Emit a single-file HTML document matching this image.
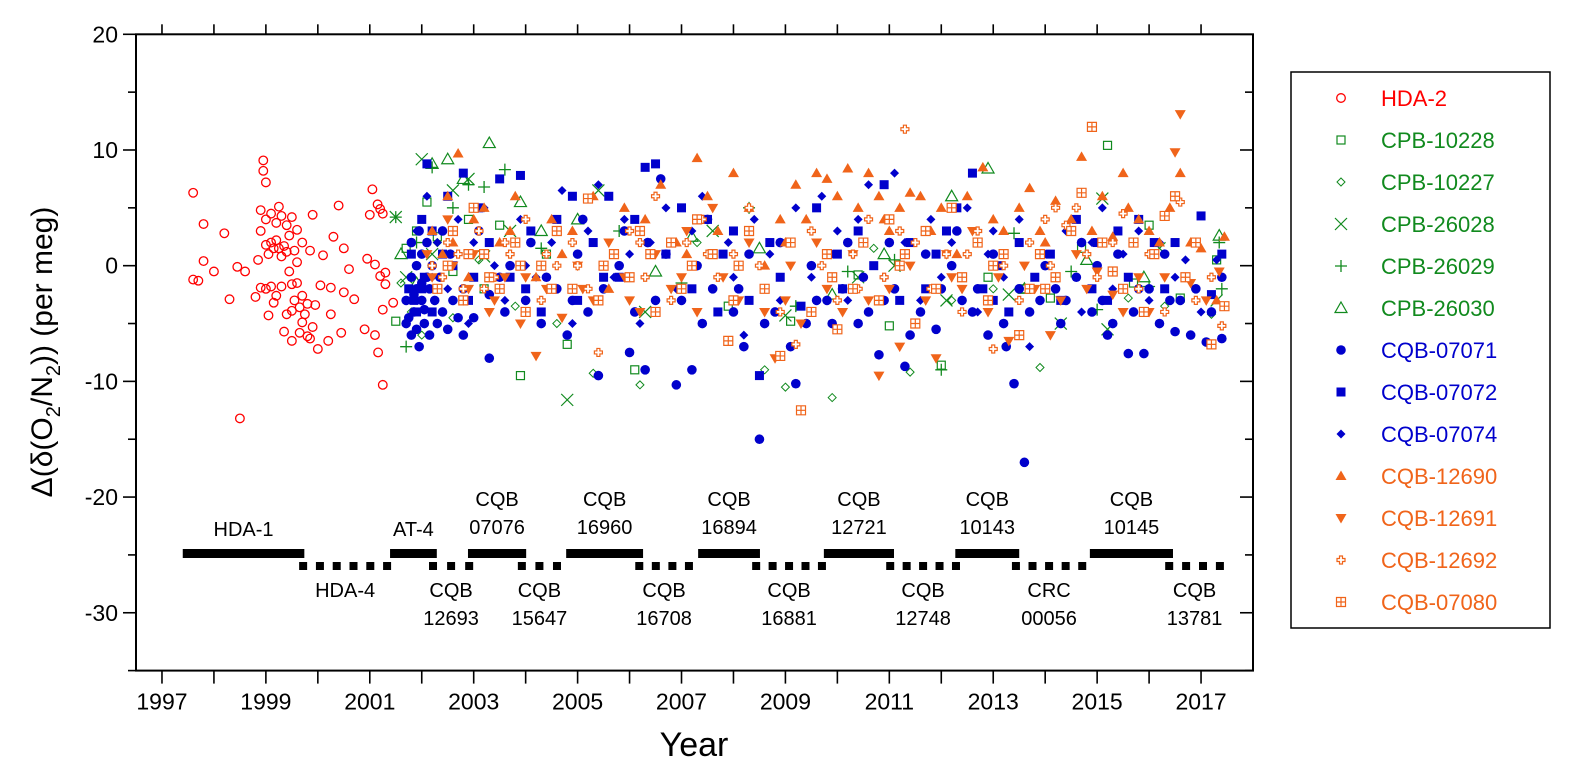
<!DOCTYPE html>
<html><head><meta charset="utf-8"><style>
body{margin:0;background:#fff;}
svg{display:block;font-family:"Liberation Sans",Arial,sans-serif;}
</style></head><body>
<svg id="chart" width="1571" height="779" viewBox="0 0 1571 779" xmlns="http://www.w3.org/2000/svg"></svg>
<script>
const yearTicks=[1997,1999,2001,2003,2005,2007,2009,2011,2013,2015,2017];
const yTicks=[20,10,0,-10,-20,-30];
const hda2=[[1997.6,-1.2],[1997.6,6.3],[1997.7,-1.3],[1997.8,0.4],[1997.8,3.6],[1998.0,-0.5],[1998.2,2.8],[1998.3,-2.9],[1998.45,-0.1],[1998.5,-13.2],[1998.6,-0.5],[1998.8,-2.7],[1998.85,0.5],[1998.9,3.0],[1998.9,4.8],[1998.95,8.2],[1998.95,9.1],[1999.0,7.2],[1999.0,4.0],[1999.0,-2.0],[1999.05,1.0],[1999.05,-4.3],[1999.1,4.5],[1999.1,2.0],[1999.1,-1.8],[1999.15,1.5],[1999.2,3.7],[1999.2,-2.6],[1999.25,5.1],[1999.25,1.5],[1999.3,4.3],[1999.3,-1.8],[1999.35,1.7],[1999.35,-5.7],[1999.4,3.5],[1999.4,1.2],[1999.4,-4.2],[1999.45,2.6],[1999.5,-1.6],[1999.5,4.2],[1999.5,-6.5],[1999.55,1.3],[1999.55,-3.0],[1999.6,3.1],[1999.6,-1.5],[1999.65,-3.6],[1999.65,-5.8],[1999.7,2.0],[1999.7,-2.6],[1999.75,-4.2],[1999.8,-3.3],[1999.8,-6.1],[1999.85,1.3],[1999.85,-6.3],[1999.9,4.4],[1999.9,-5.3],[1999.95,-3.4],[2000.0,-7.2],[2000.05,-1.7],[2000.1,0.9],[2000.2,-6.5],[2000.25,-1.9],[2000.25,-4.2],[2000.3,2.5],[2000.4,5.2],[2000.45,-5.8],[2000.5,-2.3],[2000.5,1.5],[2000.6,-0.3],[2000.7,-2.9],[2000.9,-5.5],[2000.95,0.6],[2001.0,4.4],[2001.05,6.6],[2001.1,-6.0],[2001.1,0.1],[2001.15,5.3],[2001.2,4.9],[2001.2,-0.9],[2001.25,4.5],[2001.25,-3.8],[2001.3,-1.6],[2001.3,-0.6],[2001.16,-7.5],[2001.25,-10.3],[2001.45,-3.2],[1999.2,2.2],[1999.3,0.8],[1999.45,-0.5],[1999.6,0.3],[1999.0,1.8],[1999.15,-3.2],[1999.5,-3.9],[1999.7,-4.9],[1998.9,-1.9]];
const cpb10228=[[2001.5,-4.8],[2001.7,1.5],[2001.9,3.0],[2002.1,5.5],[2002.3,2.5],[2002.6,-0.5],[2002.9,4.0],[2003.2,-2.0],[2003.5,3.5],[2003.9,-9.5],[2004.4,1.0],[2004.8,-6.8],[2006.1,-9.0],[2007.9,-3.5],[2009.1,-4.8],[2010.4,-0.8],[2011.0,-5.2],[2012.0,-8.6],[2012.9,-1.0],[2013.6,-2.0],[2014.1,-2.8],[2014.7,1.5],[2015.2,10.4],[2015.7,-1.5],[2016.0,3.5],[2016.6,-2.8],[2017.3,0.5]];
const cpb10227=[[2001.6,-1.5],[2001.8,-4.0],[2002.0,-6.0],[2002.3,2.0],[2002.6,-4.5],[2003.1,0.5],[2003.8,-3.5],[2004.6,-5.0],[2005.3,-9.3],[2006.2,-10.3],[2007.3,2.0],[2008.6,-9.0],[2009.0,-10.5],[2009.9,-11.4],[2010.7,1.5],[2011.4,-9.2],[2012.2,-3.0],[2013.0,-2.0],[2013.9,-8.8],[2014.7,2.0],[2015.6,-2.8],[2016.3,-3.5],[2017.2,-4.2]];
const cpb26028=[[2001.5,4.2],[2001.7,-1.0],[2002.0,9.2],[2002.2,1.0],[2002.6,6.5],[2002.9,7.5],[2003.2,0.8],[2003.7,3.0],[2004.8,-11.6],[2005.4,6.5],[2006.3,-4.0],[2007.6,3.0],[2009.0,-4.3],[2010.4,-1.0],[2011.1,0.0],[2012.1,-3.0],[2013.3,-2.5],[2014.3,-5.0],[2015.1,5.8],[2015.2,-5.5],[2016.2,1.5],[2017.3,-3.0]];
const cpb26029=[[2001.5,4.2],[2001.7,-7.0],[2001.9,2.0],[2002.2,8.5],[2002.6,5.0],[2002.9,7.0],[2003.2,6.8],[2003.6,8.3],[2004.3,1.5],[2005.8,3.0],[2007.0,-1.5],[2008.3,5.0],[2009.2,-3.5],[2010.2,-0.5],[2011.1,0.5],[2012.0,-9.0],[2013.4,2.8],[2014.5,-0.5],[2015.0,-3.8],[2016.0,-1.8],[2017.35,2.0],[2017.4,-2.0]];
const cpb26030=[[2001.6,1.0],[2001.9,-1.5],[2002.2,8.8],[2002.5,9.2],[2002.8,7.5],[2003.3,10.6],[2003.9,5.5],[2004.3,3.0],[2005.0,4.0],[2006.5,-0.5],[2007.2,2.5],[2008.5,1.5],[2009.9,-2.5],[2010.9,1.0],[2012.2,6.0],[2012.9,8.4],[2013.6,-2.0],[2014.8,0.5],[2015.9,-1.0],[2017.35,2.6]];
const cqb07071=[[2001.7,-3],[2001.7,-5],[2001.8,-1],[2001.8,-6],[2001.8,2],[2001.85,-4],[2001.9,0],[2001.9,-2],[2001.95,-7],[2001.95,3],[2002.0,-3],[2002.0,1],[2002.05,-5],[2002.1,-1],[2002.1,2],[2002.15,-6],[2002.2,0],[2002.25,-3],[2002.4,-4],[2002.4,3],[2002.5,-5.5],[2002.55,1],[2002.8,-6],[2002.8,-2],[2003.0,-4.5],[2003.1,3],[2003.3,-8],[2003.3,-2.5],[2003.6,-4],[2003.7,0],[2004.0,-3],[2004.1,2],[2004.3,-5],[2004.4,-1],[2004.8,-6],[2004.9,-3],[2005.0,1],[2005.1,4],[2005.4,-9.5],[2005.5,-2],[2005.8,0],[2005.9,3],[2006.0,-7.5],[2006.1,-4],[2006.3,-9],[2006.35,2],[2006.6,7.5],[2006.7,1],[2006.9,-10.3],[2007.0,-3],[2007.2,-9],[2007.3,0],[2007.5,4],[2007.6,-2],[2007.9,-6.5],[2008.0,-4],[2008.2,-7],[2008.3,1],[2008.5,-15],[2008.6,-5],[2008.8,-4],[2008.9,2],[2009.1,-7],[2009.2,-10.2],[2009.4,-5],[2009.5,0],[2009.8,-3],[2009.9,-5],[2010.1,-2],[2010.2,2],[2010.4,-5],[2010.5,-1],[2010.8,-7.7],[2010.9,-3],[2011.0,2],[2011.1,-2],[2011.3,-8.7],[2011.4,-6],[2011.6,-4],[2011.7,1],[2011.9,-5.5],[2012.0,-2],[2012.2,0],[2012.3,3],[2012.6,-4],[2012.7,-2],[2012.9,-6],[2013.0,1],[2013.2,-5],[2013.25,-7],[2013.4,-10.2],[2013.5,-2],[2013.6,-17],[2013.7,-4],[2013.9,-3],[2014.0,0],[2014.2,-2],[2014.3,-5],[2014.6,-1],[2014.7,2],[2014.9,-4],[2015.0,0],[2015.1,-3],[2015.2,-6],[2015.3,-5],[2015.4,1],[2015.6,-7.6],[2015.7,-4],[2015.9,-7.6],[2016.0,-2],[2016.2,-5],[2016.3,1],[2016.5,-5.7],[2016.6,-3],[2016.8,-6],[2016.9,-2],[2017.1,-6.6],[2017.2,-4],[2017.4,-6.3],[2017.4,-1],[2001.75,-4.5],[2001.85,-2.5],[2001.9,-5.5],[2002.0,-1.5],[2002.05,-3.8],[2002.15,-2],[2002.3,-5],[2002.35,-1],[2002.6,-3],[2002.7,-4.5],[2003.5,-1],[2004.6,-2],[2005.2,-4],[2006.5,-3],[2007.4,-5],[2008.1,-2],[2009.6,-3],[2010.6,-4],[2012.4,-3],[2014.4,-3],[2015.8,-2],[2016.4,-3]];
const cqb07072=[[2001.75,-2],[2001.8,1],[2001.9,-4],[2002.0,4],[2002.05,-1],[2002.1,8.8],[2002.2,3],[2002.3,-2],[2002.5,6],[2002.6,0],[2002.8,8],[2002.9,-3],[2003.1,5],[2003.3,2],[2003.5,7.5],[2003.7,-1],[2003.9,7.8],[2004.1,3],[2004.3,-4],[2004.6,4],[2004.9,6],[2005.0,-3],[2005.3,2],[2005.6,6],[2005.8,-1],[2006.1,4],[2006.3,8.5],[2006.5,8.8],[2006.7,1],[2007.0,5],[2007.2,-2],[2007.5,4],[2007.7,-4],[2008.0,3],[2008.3,-3],[2008.5,-9.5],[2008.7,2],[2008.9,-1],[2009.3,-3.5],[2009.6,5],[2009.8,1],[2010.1,-2],[2010.4,3],[2010.7,0],[2010.9,7],[2011.2,-3],[2011.4,2],[2011.7,-2],[2011.9,1],[2012.1,3],[2012.3,5],[2012.6,8],[2012.8,-2],[2013.1,0],[2013.3,-4],[2013.5,2],[2013.8,-1],[2014.1,1],[2014.3,-3],[2014.6,4],[2014.9,-2],[2015.0,2],[2015.2,-3],[2015.4,3],[2015.6,-1],[2015.8,4],[2016.1,2],[2016.3,-2],[2016.5,2],[2016.7,-1],[2017.0,4.3],[2017.2,-2.5],[2017.4,1],[2001.85,-3],[2002.0,-2],[2002.2,-4],[2002.4,1],[2003.0,-1],[2004.0,-2],[2005.5,-1],[2007.8,1],[2010.0,1],[2013.0,-3]];
const cqb07074=[[2001.8,-1],[2001.9,3],[2002.0,-3],[2002.1,6],[2002.3,2],[2002.5,-2],[2002.7,4],[2002.9,-5],[2003.2,5],[2003.4,0],[2003.6,-3],[2003.9,4],[2004.2,-1],[2004.5,2],[2004.7,6.5],[2004.9,-5],[2005.2,3],[2005.4,7],[2005.7,-1],[2005.9,4],[2006.2,-5],[2006.4,2],[2006.7,5],[2006.9,-2],[2007.2,3],[2007.4,6],[2007.7,-4],[2007.9,2],[2008.2,-6],[2008.4,4],[2008.7,1],[2008.9,-3],[2009.2,5],[2009.5,-1],[2009.7,6],[2009.9,1],[2010.2,-3],[2010.4,4],[2010.6,7],[2010.9,-1],[2011.1,8],[2011.3,2],[2011.6,-3],[2011.8,4],[2012.0,-1],[2012.2,2],[2012.5,5],[2012.7,-4],[2013.0,3],[2013.2,-1],[2013.5,4],[2013.7,-7],[2014.0,1],[2014.2,-2],[2014.4,3],[2014.7,-4],[2014.9,2],[2015.1,5],[2015.3,-2],[2015.5,1],[2015.8,3],[2016.0,-3],[2016.2,2],[2016.5,-1],[2016.7,0.5],[2017.0,-4],[2017.3,0.5],[2002.0,1],[2002.2,-1],[2003.0,2],[2004.0,0],[2006.0,1],[2008.0,-1],[2010.0,3],[2012.9,1]];
const cqb12690=[[2002.2,3],[2002.5,6],[2002.7,9.7],[2002.9,-1],[2003.2,5],[2003.5,2],[2003.8,6],[2004.2,-1],[2004.5,4],[2004.9,3],[2005.3,6],[2005.6,-2],[2005.9,5],[2006.3,4],[2006.6,7],[2006.9,2],[2007.3,9.3],[2007.5,6],[2007.7,3],[2008.0,8],[2008.3,5],[2008.6,0],[2008.9,4],[2009.2,7],[2009.4,4],[2009.6,8],[2009.8,7.5],[2010.0,6],[2010.2,8.4],[2010.4,5],[2010.6,8],[2010.8,6],[2011.0,3],[2011.2,5],[2011.4,6.3],[2011.6,6],[2011.8,3],[2012.0,5],[2012.3,1],[2012.5,6],[2012.8,8.5],[2013.0,4],[2013.2,3],[2013.5,5],[2013.7,6.7],[2014.0,2],[2014.2,5.6],[2014.5,4],[2014.7,9.4],[2014.9,3],[2015.1,6],[2015.3,2.5],[2015.5,8],[2015.8,4],[2016.0,3],[2016.2,2],[2016.4,5],[2016.6,8],[2016.8,2],[2017.0,1.5],[2017.3,-3],[2017.45,2.5],[2002.4,1],[2002.6,2],[2003.0,4],[2003.7,3],[2004.7,1],[2007.1,1],[2009.0,2],[2010.9,4],[2013.9,3],[2015.6,5]];
const cqb12691=[[2002.1,1],[2002.3,-2],[2002.5,4],[2002.8,-3],[2003.0,1],[2003.3,-4],[2003.6,-1],[2003.9,-5],[2004.2,-7.8],[2004.4,-2],[2004.7,-4.5],[2005.0,0],[2005.3,-3],[2005.6,2],[2005.9,-1],[2006.2,-4],[2006.5,1],[2006.8,-2],[2007.1,3],[2007.3,-4],[2007.6,5],[2007.8,-1],[2008.1,-3],[2008.3,2],[2008.6,-4],[2008.8,-8],[2009.1,0],[2009.3,-5],[2009.6,2],[2009.8,-2],[2010.1,-4],[2010.3,1],[2010.6,-3],[2010.8,-9.5],[2011.0,-2],[2011.2,-7],[2011.4,0],[2011.7,-3],[2011.9,-8],[2012.1,1],[2012.4,-2],[2012.6,3],[2012.9,-4],[2013.1,-1],[2013.3,-6.5],[2013.6,0],[2013.8,-2],[2014.1,-6],[2014.3,-3],[2014.6,1],[2014.8,-2],[2015.0,-0.5],[2015.3,-2.5],[2015.5,-4],[2015.8,-1],[2016.0,-4],[2016.3,-1],[2016.5,9.8],[2016.6,13.1],[2016.8,-1.5],[2017.1,-3],[2017.35,-0.5],[2002.2,-1],[2002.6,0],[2002.9,-2],[2003.4,-3],[2004.0,-1],[2005.1,-2],[2006.0,-3],[2007.0,-1],[2009.0,-3],[2012.2,-1]];
const cqb12692=[[2002.2,0],[2002.5,2],[2002.8,-2],[2003.1,3],[2003.4,-1],[2003.7,1],[2004.0,4],[2004.3,-3],[2004.6,0],[2004.9,2],[2005.2,-2],[2005.4,-7.5],[2005.7,1],[2006.0,3],[2006.3,-1],[2006.5,6],[2006.8,-3],[2007.1,2],[2007.4,4],[2007.7,-1],[2008.0,1],[2008.3,5],[2008.6,-2],[2008.9,-4],[2009.2,-6.8],[2009.5,3],[2009.7,0],[2010.0,-3],[2010.3,1],[2010.6,4],[2010.9,-1],[2011.2,3],[2011.3,11.8],[2011.5,2],[2011.8,-2],[2012.1,1],[2012.4,-4],[2012.7,3],[2013.0,-7.2],[2013.2,0],[2013.5,-3],[2013.7,2],[2014.0,4],[2014.2,5],[2014.4,3.5],[2014.6,5],[2014.8,1],[2015.0,-1],[2015.3,2],[2015.5,4.5],[2015.8,-2],[2016.0,1],[2016.3,-4],[2016.6,5.5],[2016.9,-3],[2017.2,-1],[2017.4,-5.2],[2002.4,-1],[2002.7,1],[2003.2,-2],[2003.6,2],[2004.4,1],[2005.0,0],[2006.2,2],[2007.5,1],[2008.5,0],[2010.4,-2],[2012.5,1],[2014.1,0]];
const cqb07080=[[2002.3,-2],[2002.6,3],[2002.8,-3],[2003.0,5],[2003.2,1],[2003.5,-2],[2003.8,2],[2004.0,-4],[2004.3,0],[2004.6,3],[2004.9,-2],[2005.2,5.8],[2005.4,-3],[2005.7,1],[2006.0,-1],[2006.2,3],[2006.5,-4],[2006.8,2],[2007.0,-2],[2007.3,4],[2007.6,1],[2007.9,-6.5],[2008.1,0],[2008.3,3],[2008.6,-2],[2008.9,-7.8],[2009.1,2],[2009.3,-12.5],[2009.5,-4],[2009.8,1],[2010.0,-5.5],[2010.3,-2],[2010.5,2],[2010.8,-3],[2011.0,4],[2011.2,0],[2011.5,-5],[2011.7,3],[2011.9,-2],[2012.2,5],[2012.4,-1],[2012.7,2],[2012.9,-3],[2013.2,1],[2013.5,-6],[2013.7,-2],[2013.9,1],[2014.2,-1],[2014.5,3],[2014.7,6.3],[2014.9,12],[2015.1,2],[2015.3,-0.5],[2015.5,-2],[2015.7,2],[2015.9,-4],[2016.1,1],[2016.3,4.3],[2016.5,6],[2016.7,-1],[2016.9,2],[2017.2,-6.8],[2017.45,-3.5],[2002.5,0],[2002.9,1],[2003.3,-1],[2003.9,0],[2004.5,-2],[2005.5,0],[2006.4,1],[2007.2,0],[2008.0,-3],[2009.9,-1],[2011.3,1],[2013.0,0],[2014.0,-2]];
const bandsTop=[["HDA-1",1997.4,1999.74],["AT-4",2001.39,2002.29],["CQB|07076",2002.89,2004.01],["CQB|16960",2004.78,2006.26],["CQB|16894",2007.32,2008.51],["CQB|12721",2009.74,2011.09],["CQB|10143",2012.27,2013.5],["CQB|10145",2014.86,2016.46]];
const bandsBottom=[["HDA-4",1999.64,2001.41],["CQB|12693",2002.14,2002.99],["CQB|15647",2003.85,2004.68],["CQB|16708",2006.11,2007.22],["CQB|16881",2008.36,2009.78],["CQB|12748",2010.94,2012.36],["CRC|00056",2013.36,2014.79],["CQB|13781",2016.31,2017.44]];

const NS='http://www.w3.org/2000/svg';
const svg=document.getElementById('chart');
const L=136,R=1253,T=34.3,B=670.6,X0=1996.5,X1=2018,Y0=-35,Y1=20;
function xs(v){return L+(v-X0)/(X1-X0)*(R-L);}
function ys(v){return B-(v-Y0)/(Y1-Y0)*(B-T);}
function mk(tag,attrs,parent){const e=document.createElementNS(NS,tag);for(const k in attrs)e.setAttribute(k,attrs[k]);(parent||svg).appendChild(e);return e;}
const RED='#ff0000',GRN='#118a1e',BLU='#0000cc',ORG='#f0641a';
function marker(shape,color,x,y,g){
  let e;
  if(shape==='ocircle')e=mk('circle',{cx:x,cy:y,r:4.3,fill:'none',stroke:color,'stroke-width':1.3},g);
  else if(shape==='osquare')e=mk('rect',{x:x-4,y:y-4,width:8,height:8,fill:'none',stroke:color,'stroke-width':1.2},g);
  else if(shape==='odiamond')e=mk('path',{d:`M${x},${y-4}L${x+4},${y}L${x},${y+4}L${x-4},${y}Z`,fill:'none',stroke:color,'stroke-width':1},g);
  else if(shape==='xcross')e=mk('path',{d:`M${x-6},${y-6}L${x+6},${y+6}M${x-6},${y+6}L${x+6},${y-6}`,stroke:color,'stroke-width':1.2},g);
  else if(shape==='plus')e=mk('path',{d:`M${x-6},${y}L${x+6},${y}M${x},${y-6}L${x},${y+6}`,stroke:color,'stroke-width':1.3},g);
  else if(shape==='otri')e=mk('path',{d:`M${x},${y-6}L${x+6},${y+4.5}L${x-6},${y+4.5}Z`,fill:'none',stroke:color,'stroke-width':1.2},g);
  else if(shape==='circle')e=mk('circle',{cx:x,cy:y,r:4.8,fill:color},g);
  else if(shape==='square')e=mk('rect',{x:x-4.5,y:y-4.5,width:9,height:9,fill:color},g);
  else if(shape==='diamond')e=mk('path',{d:`M${x},${y-4.5}L${x+4.5},${y}L${x},${y+4.5}L${x-4.5},${y}Z`,fill:color},g);
  else if(shape==='tri')e=mk('path',{d:`M${x},${y-5.5}L${x+5.5},${y+4}L${x-5.5},${y+4}Z`,fill:color},g);
  else if(shape==='dtri')e=mk('path',{d:`M${x},${y+5.5}L${x+5.5},${y-4}L${x-5.5},${y-4}Z`,fill:color},g);
  else if(shape==='ocross')e=mk('path',{d:`M${x-1.5},${y-4}h3v2.5h2.5v3h-2.5v2.5h-3v-2.5h-2.5v-3h2.5Z`,fill:'#fff',stroke:color,'stroke-width':1.2},g);
  else if(shape==='gsquare')e=mk('path',{d:`M${x-4.5},${y-4.5}h9v9h-9ZM${x},${y-4.5}v9M${x-4.5},${y}h9`,fill:'#fff',stroke:color,'stroke-width':1.2},g);
  return e;
}
const series=[
 ['HDA-2',hda2,'ocircle',RED],['CPB-10228',cpb10228,'osquare',GRN],['CPB-10227',cpb10227,'odiamond',GRN],
 ['CPB-26028',cpb26028,'xcross',GRN],['CPB-26029',cpb26029,'plus',GRN],['CPB-26030',cpb26030,'otri',GRN],
 ['CQB-07071',cqb07071,'circle',BLU],['CQB-07072',cqb07072,'square',BLU],['CQB-07074',cqb07074,'diamond',BLU],
 ['CQB-12690',cqb12690,'tri',ORG],['CQB-12691',cqb12691,'dtri',ORG],['CQB-12692',cqb12692,'ocross',ORG],['CQB-07080',cqb07080,'gsquare',ORG]];

const ax=mk('g',{});


mk('rect',{x:L,y:T,width:R-L,height:B-T,fill:'none',stroke:'#000','stroke-width':2},ax);
for(let yr=1997;yr<=2017;yr++){
  const x=xs(yr);
  mk('line',{x1:x,x2:x,y1:B,y2:B+13,stroke:'#000','stroke-width':1.6},ax);
  mk('line',{x1:x,x2:x,y1:T,y2:T-10,stroke:'#000','stroke-width':1.6},ax);
}
yearTicks.forEach(yr=>{
  const t=mk('text',{x:xs(yr),y:B+39,'font-size':23,'text-anchor':'middle'},ax);
  
  
  t.textContent=yr;
});
for(let v=-35;v<=20;v+=5){
  const y=ys(v),maj=(v%10===0);
  mk('line',{x1:L,x2:L-(maj?13:8),y1:y,y2:y,stroke:'#000','stroke-width':1.6},ax);
  mk('line',{x1:R,x2:R-(maj?13:8),y1:y,y2:y,stroke:'#000','stroke-width':1.6},ax);
}
yTicks.forEach(v=>{
  const t=mk('text',{x:L-18,y:ys(v)+8,'font-size':23,'text-anchor':'end'},ax);
  
  
  t.textContent=v;
});
const xt=mk('text',{x:694,y:756,'font-size':34,'text-anchor':'middle'});


xt.textContent='Year';
const yt=mk('text',{x:0,y:0,'font-size':30,'text-anchor':'middle',transform:'translate(52,352) rotate(-90)'});


yt.innerHTML='Δ(δ(O<tspan font-size="20" dy="8">2</tspan><tspan dy="-8">/N</tspan><tspan font-size="20" dy="8">2</tspan><tspan dy="-8">)) (per meg)</tspan>';

series.forEach(s=>{
  const g=mk('g',{});
  
  
  s[1].forEach(p=>{
    const m=marker(s[2],s[3],xs(p[0]),ys(p[1]),g);
    
    
  });
});

const bg=mk('g',{});


function label(txt,x,y,g){
  const parts=txt.split('|');
  parts.forEach((p,i)=>{
    const t=mk('text',{x:x,y:y+i*28,'font-size':20,'text-anchor':'middle'},g);
    
    
    t.textContent=p;
  });
}
bandsTop.forEach(b=>{
  const r=mk('rect',{x:xs(b[1]),y:549,width:xs(b[2])-xs(b[1]),height:9,fill:'#000'},bg);
  
  
  const two=b[0].includes('|');
  label(b[0],(xs(b[1])+xs(b[2]))/2,two?506:536,bg);
});
bandsBottom.forEach(b=>{
  const x1=xs(b[1]),x2=xs(b[2]);
  const n=Math.max(2,Math.round((x2-x1+8)/16));
  const step=(x2-x1-8)/(n-1);
  for(let i=0;i<n;i++){
    const r=mk('rect',{x:x1+i*step,y:562,width:8,height:8,fill:'#000'},bg);
    
    
  }
  label(b[0],(x1+x2)/2,597,bg);
});

const lg=mk('g',{});


mk('rect',{x:1291,y:72,width:259,height:556,fill:'#fff',stroke:'#000','stroke-width':1.5},lg);
series.forEach((s,i)=>{
  const y=98+i*42;
  const e=mk('g',{},lg);
  
  
  marker(s[2],s[3],1341,y,e);
  const t=mk('text',{x:1381,y:y+8,'font-size':22,fill:s[3]},e);
  t.textContent=s[0];
});
</script>
</body></html>
